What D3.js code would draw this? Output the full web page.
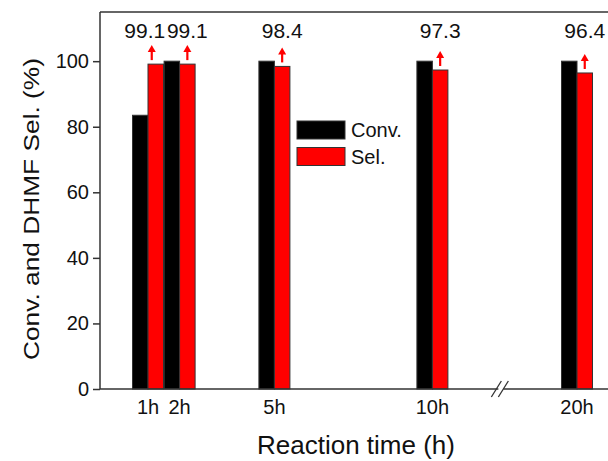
<!DOCTYPE html>
<html>
<head>
<meta charset="utf-8">
<script src="https://cdn.jsdelivr.net/npm/d3@7"></script>
<style>
  body { margin: 0; background: #fff; }
  svg text { font-family: "Liberation Sans", Arial, sans-serif; fill: #111; }
</style>
</head>
<body>
<div id="canvas"></div>
<script>
"use strict"

// chart data
let hours = [1, 2, 5, 10, 20];
let hourLabels = ["1h", "2h", "5h", "10h", "20h"];
let conversion = [83.5, 100, 100, 100, 100];
let selectivity = [99.1, 99.1, 98.4, 97.3, 96.4];
let selLabels = ["99.1", "99.1", "98.4", "97.3", "96.4"];
let yTicks = [0, 20, 40, 60, 80, 100];
let seriesNames = ["Conv.", "Sel."];
let seriesColors = ["#000000", "#ff0000"];
let axisBreak = 14.7;   // hours, where the axis is broken

let width = 608, height = 461;
let plotLeft = 100, plotTop = 12, plotBottom = 389;
let barW = 15.5;

let drawing = d3.select("#canvas")
    .append("svg")
    .attr("width", width)
    .attr("height", height);

// broken x axis: linear up to 10h, then jump to 20h
let x = d3.scaleLinear()
    .domain([1, 10, 20])
    .range([148, 432.4, 577]);

let y = d3.scaleLinear()
    .domain([0, 115])
    .range([plotBottom, plotTop]);

// bars
let groups = drawing.selectAll("g.bar")
    .data(hours)
    .enter()
    .append("g")
    .attr("class", "bar");

groups.append("rect")
    .attr("x", d => x(d) - barW)
    .attr("y", (d, i) => y(conversion[i]))
    .attr("width", barW)
    .attr("height", (d, i) => plotBottom - y(conversion[i]))
    .attr("fill", seriesColors[0])
    .attr("stroke", "#333")
    .attr("stroke-width", 1);

groups.append("rect")
    .attr("x", d => x(d))
    .attr("y", (d, i) => y(selectivity[i]))
    .attr("width", barW)
    .attr("height", (d, i) => plotBottom - y(selectivity[i]))
    .attr("fill", seriesColors[1])
    .attr("stroke", "#333")
    .attr("stroke-width", 1);

// arrows and value labels above the Sel. bars
groups.each(function (d, i) {
    let g = d3.select(this);
    let cx = x(d) + barW / 2 + (i == 0 ? -4 : 0);
    let yb = y(selectivity[i]) - 4;
    let yt = yb - 15;
    g.append("line")
        .attr("x1", cx).attr("x2", cx)
        .attr("y1", yb).attr("y2", yt + 5)
        .attr("stroke", "#ff0000")
        .attr("stroke-width", 2.2);
    g.append("path")
        .attr("d", `M${cx - 4},${yt + 7}L${cx},${yt}L${cx + 4},${yt + 7}Z`)
        .attr("fill", "#ff0000");
    g.append("text")
        .attr("x", x(d) + barW / 2 + (i == 0 ? -11 : 0))
        .attr("y", 38)
        .attr("text-anchor", "middle")
        .attr("font-size", 21)
        .text(selLabels[i]);
});

// frame: left axis, top line, bottom axis with a break
let axisColor = "#333";
drawing.append("line")
    .attr("x1", plotLeft).attr("x2", width)
    .attr("y1", plotTop).attr("y2", plotTop)
    .attr("stroke", axisColor).attr("stroke-width", 1.5);

let yAxis = d3.axisLeft(y)
    .tickValues(yTicks)
    .tickSize(7)
    .tickPadding(4);

drawing.append("g")
    .attr("transform", `translate(${plotLeft},0)`)
    .call(yAxis)
    .call(g => g.select(".domain").attr("stroke", axisColor).attr("stroke-width", 1.5)
        .attr("d", `M0,${plotTop}V${plotBottom}`))
    .call(g => g.selectAll(".tick line").attr("stroke", axisColor).attr("stroke-width", 1.5))
    .call(g => g.selectAll(".tick text").attr("font-size", 20).attr("fill", "#111")
        .attr("font-family", "Liberation Sans, Arial, sans-serif"));

let bx = x(axisBreak);
drawing.append("line")
    .attr("x1", plotLeft).attr("x2", bx - 2)
    .attr("y1", plotBottom).attr("y2", plotBottom)
    .attr("stroke", axisColor).attr("stroke-width", 1.5);
drawing.append("line")
    .attr("x1", bx + 3).attr("x2", width)
    .attr("y1", plotBottom).attr("y2", plotBottom)
    .attr("stroke", axisColor).attr("stroke-width", 1.5);
[-3, 4].forEach(off => {
    drawing.append("line")
        .attr("x1", bx + off - 6).attr("y1", plotBottom + 8)
        .attr("x2", bx + off + 4).attr("y2", plotBottom - 8)
        .attr("stroke", axisColor).attr("stroke-width", 1.3);
});

// x tick labels (no tick marks)
drawing.selectAll("text.xtick")
    .data(hours)
    .enter()
    .append("text")
    .attr("class", "xtick")
    .attr("x", d => x(d))
    .attr("y", 414)
    .attr("text-anchor", "middle")
    .attr("font-size", 20)
    .text((d, i) => hourLabels[i]);

// axis titles
drawing.append("text")
    .attr("x", 356)
    .attr("y", 454)
    .attr("text-anchor", "middle")
    .attr("font-size", 26)
    .text("Reaction time (h)");

drawing.append("text")
    .attr("transform", "translate(39,209) rotate(-90)")
    .attr("text-anchor", "middle")
    .attr("font-size", 22)
    .attr("textLength", 302)
    .attr("lengthAdjust", "spacingAndGlyphs")
    .text("Conv. and DHMF Sel. (%)");

// legend
let legend = drawing.append("g")
    .attr("transform", "translate(297,121)");

seriesNames.forEach((name, i) => {
    legend.append("rect")
        .attr("x", 0)
        .attr("y", i * 26.5)
        .attr("width", 48)
        .attr("height", 18)
        .attr("fill", seriesColors[i])
        .attr("stroke", "#333")
        .attr("stroke-width", 1);
    legend.append("text")
        .attr("x", 54)
        .attr("y", i * 26.5 + 16)
        .attr("font-size", 20)
        .text(name);
});
</script>
</body>
</html>
